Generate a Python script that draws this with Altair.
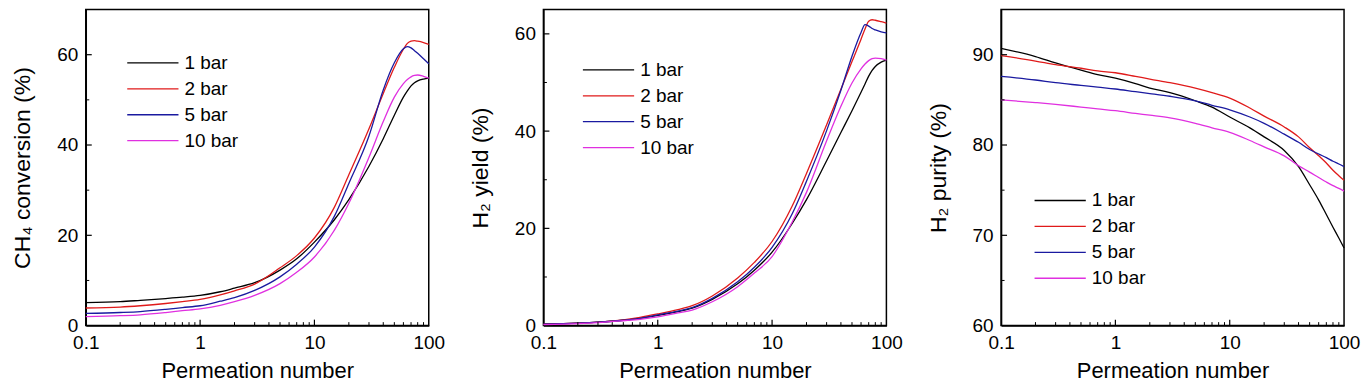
import altair as alt
import pandas as pd

SERIES = ["1 bar", "2 bar", "5 bar", "10 bar"]
COLORS = ["#000000", "#e01a1a", "#1a1aa0", "#e030e0"]

# x grid for panels 1 and 2 (permeation number)
X_AB = [0.1, 0.2, 0.3, 0.5, 0.7, 1, 1.5, 2, 3, 5, 7, 10, 15, 20, 30, 40, 50, 60, 65, 70, 75, 80, 90, 100]

# CH4 conversion (%)
CH4_1 = [5.1, 5.3, 5.6, 6.0, 6.3, 6.7, 7.5, 8.3, 9.5, 12.3, 14.8, 18.5, 23.5, 27.9, 35.3, 41.4, 46.6, 50.6, 52.0, 53.1, 53.8, 54.2, 54.6, 54.8]
CH4_2 = [3.9, 4.1, 4.4, 4.9, 5.3, 5.8, 6.8, 7.7, 9.2, 12.8, 15.5, 19.4, 26.3, 33.4, 43.6, 51.4, 57.2, 61.2, 62.5, 63.0, 63.1, 63.0, 62.7, 62.3]
CH4_5 = [2.7, 2.9, 3.1, 3.6, 4.0, 4.4, 5.4, 6.2, 7.8, 10.8, 13.6, 17.4, 24.3, 31.5, 42.0, 52.2, 58.2, 61.3, 61.8, 61.5, 60.9, 60.3, 59.1, 58.0]
CH4_10 = [2.0, 2.2, 2.4, 2.9, 3.3, 3.7, 4.5, 5.3, 6.7, 9.3, 11.8, 15.2, 21.2, 27.1, 37.3, 45.2, 50.6, 53.6, 54.5, 55.1, 55.4, 55.5, 55.2, 54.8]

# H2 yield (%)
YLD_1 = [0.3, 0.5, 0.7, 1.1, 1.5, 2.1, 2.9, 3.6, 5.4, 8.6, 11.4, 15.1, 21.0, 25.9, 33.9, 39.7, 44.2, 48.0, 49.7, 51.3, 52.5, 53.3, 54.2, 54.6]
YLD_2 = [0.3, 0.5, 0.7, 1.2, 1.7, 2.4, 3.3, 4.1, 6.1, 9.8, 13.0, 17.3, 24.6, 31.3, 41.3, 48.6, 54.3, 58.9, 61.0, 62.6, 62.9, 62.8, 62.5, 62.2]
YLD_5 = [0.3, 0.5, 0.7, 1.1, 1.5, 2.2, 3.0, 3.7, 5.6, 9.0, 12.0, 16.1, 23.0, 29.7, 40.1, 48.4, 55.4, 60.3, 61.9, 61.6, 61.1, 60.8, 60.4, 60.2]
YLD_10 = [0.2, 0.4, 0.6, 1.0, 1.3, 1.8, 2.6, 3.2, 4.9, 8.0, 10.8, 14.2, 21.3, 27.4, 38.0, 45.1, 49.9, 52.8, 53.8, 54.5, 54.9, 55.0, 54.9, 54.6]

# x grid for panel 3
X_C = [0.1, 0.2, 0.3, 0.5, 0.7, 1, 1.5, 2, 3, 5, 7, 10, 15, 20, 30, 40, 50, 60, 70, 80, 90, 100]

# H2 purity (%)
PUR_1 = [90.7, 89.8, 89.1, 88.3, 87.8, 87.4, 86.8, 86.3, 85.8, 84.9, 84.2, 83.1, 81.9, 80.9, 79.4, 77.6, 75.6, 73.9, 72.3, 70.9, 69.7, 68.6]
PUR_2 = [89.9, 89.3, 88.9, 88.5, 88.2, 88.0, 87.6, 87.3, 86.9, 86.3, 85.8, 85.2, 84.1, 83.2, 82.0, 80.9, 79.7, 78.8, 78.0, 77.2, 76.6, 76.1]
PUR_5 = [87.6, 87.2, 86.9, 86.6, 86.4, 86.2, 85.9, 85.7, 85.4, 84.9, 84.4, 83.9, 83.1, 82.4, 81.2, 80.3, 79.5, 79.0, 78.6, 78.2, 77.9, 77.6]
PUR_10 = [85.0, 84.7, 84.5, 84.2, 84.0, 83.8, 83.5, 83.3, 83.0, 82.4, 81.9, 81.4, 80.5, 79.8, 78.8, 77.7, 77.0, 76.4, 75.9, 75.5, 75.2, 74.9]

X_MAJOR = [0.1, 1, 10, 100]
X_MINOR = [0.2, 0.3, 0.4, 0.5, 0.6, 0.7, 0.8, 0.9,
           2, 3, 4, 5, 6, 7, 8, 9,
           20, 30, 40, 50, 60, 70, 80, 90]

W, H = 344, 317
FONT = "Liberation Sans"


def long_df(x, ys):
    rows = []
    for name, vals in zip(SERIES, ys):
        for xv, yv in zip(x, vals):
            rows.append({"x": xv, "y": yv, "series": name})
    return pd.DataFrame(rows)


def panel(x, ys, ydom, ymaj, ymin, ytitle, lx, ly):
    df = long_df(x, ys)
    xs = alt.Scale(type="log", domain=[0.1, 100], nice=False)
    ysc = alt.Scale(domain=ydom, nice=False, zero=False)
    lines = alt.Chart(df).mark_line(strokeWidth=1.3, interpolate="monotone").encode(
        x=alt.X("x:Q", scale=xs,
                axis=alt.Axis(values=X_MAJOR, format="~g", title="Permeation number",
                              labelFlush=False)),
        y=alt.Y("y:Q", scale=ysc, axis=alt.Axis(values=ymaj, title=ytitle, labelFlush=False)),
        color=alt.Color("series:N",
                        scale=alt.Scale(domain=SERIES, range=COLORS),
                        legend=alt.Legend(title=None, orient="none", legendX=lx, legendY=ly,
                                          symbolType="M-1,0H5.5", symbolSize=250,
                                          symbolStrokeWidth=1.3, labelFontSize=19,
                                          labelFont=FONT, labelColor="black",
                                          labelOffset=40, rowPadding=6)),
    )
    xt_major = alt.Chart(pd.DataFrame({"t": X_MAJOR[1:-1]})).mark_rule(
        color="black", strokeWidth=1.2).encode(
        x=alt.X("t:Q", scale=xs), y=alt.value(H), y2=alt.value(H - 6))
    xt_minor = alt.Chart(pd.DataFrame({"t": X_MINOR})).mark_rule(
        color="black", strokeWidth=1.0).encode(
        x=alt.X("t:Q", scale=xs), y=alt.value(H), y2=alt.value(H - 3.5))
    yt_major = alt.Chart(pd.DataFrame({"t": ymaj[1:]})).mark_rule(
        color="black", strokeWidth=1.2).encode(
        y=alt.Y("t:Q", scale=ysc), x=alt.value(0), x2=alt.value(6))
    yt_minor = alt.Chart(pd.DataFrame({"t": ymin})).mark_rule(
        color="black", strokeWidth=1.0).encode(
        y=alt.Y("t:Q", scale=ysc), x=alt.value(0), x2=alt.value(3.5))
    return alt.layer(lines, xt_major, xt_minor, yt_major, yt_minor).properties(width=W, height=H)


p1 = panel(X_AB, [CH4_1, CH4_2, CH4_5, CH4_10], [0, 70], [0, 20, 40, 60], [10, 30, 50],
           "CH₄ conversion (%)", 40, 44)
p2 = panel(X_AB, [YLD_1, YLD_2, YLD_5, YLD_10], [0, 65], [0, 20, 40, 60], [10, 30, 50],
           "H₂ yield (%)", 38, 51)
p3 = panel(X_C, [PUR_1, PUR_2, PUR_5, PUR_10], [60, 95], [60, 70, 80, 90], [65, 75, 85],
           "H₂ purity (%)", 32, 182)

chart = alt.hconcat(p1, p2, p3, spacing=115, bounds="flush").resolve_scale(
    color="independent", x="independent", y="independent"
).configure_axis(
    domainColor="black", domainWidth=1.5, ticks=False, grid=False,
    labelFontSize=19, labelFont=FONT, titleFont=FONT,
    labelColor="black", titleColor="black", titleFontWeight="normal",
).configure_axisX(labelPadding=8, titlePadding=8, titleFontSize=22).configure_axisY(
    labelPadding=8, titlePadding=22, titleFontSize=23
).configure_view(stroke="black", strokeWidth=1.5).properties(
    background="white", padding={"left": 3, "top": 0, "right": 0, "bottom": 0}
)

chart.save("out.html", embed_options={"renderer": "svg", "actions": False})
